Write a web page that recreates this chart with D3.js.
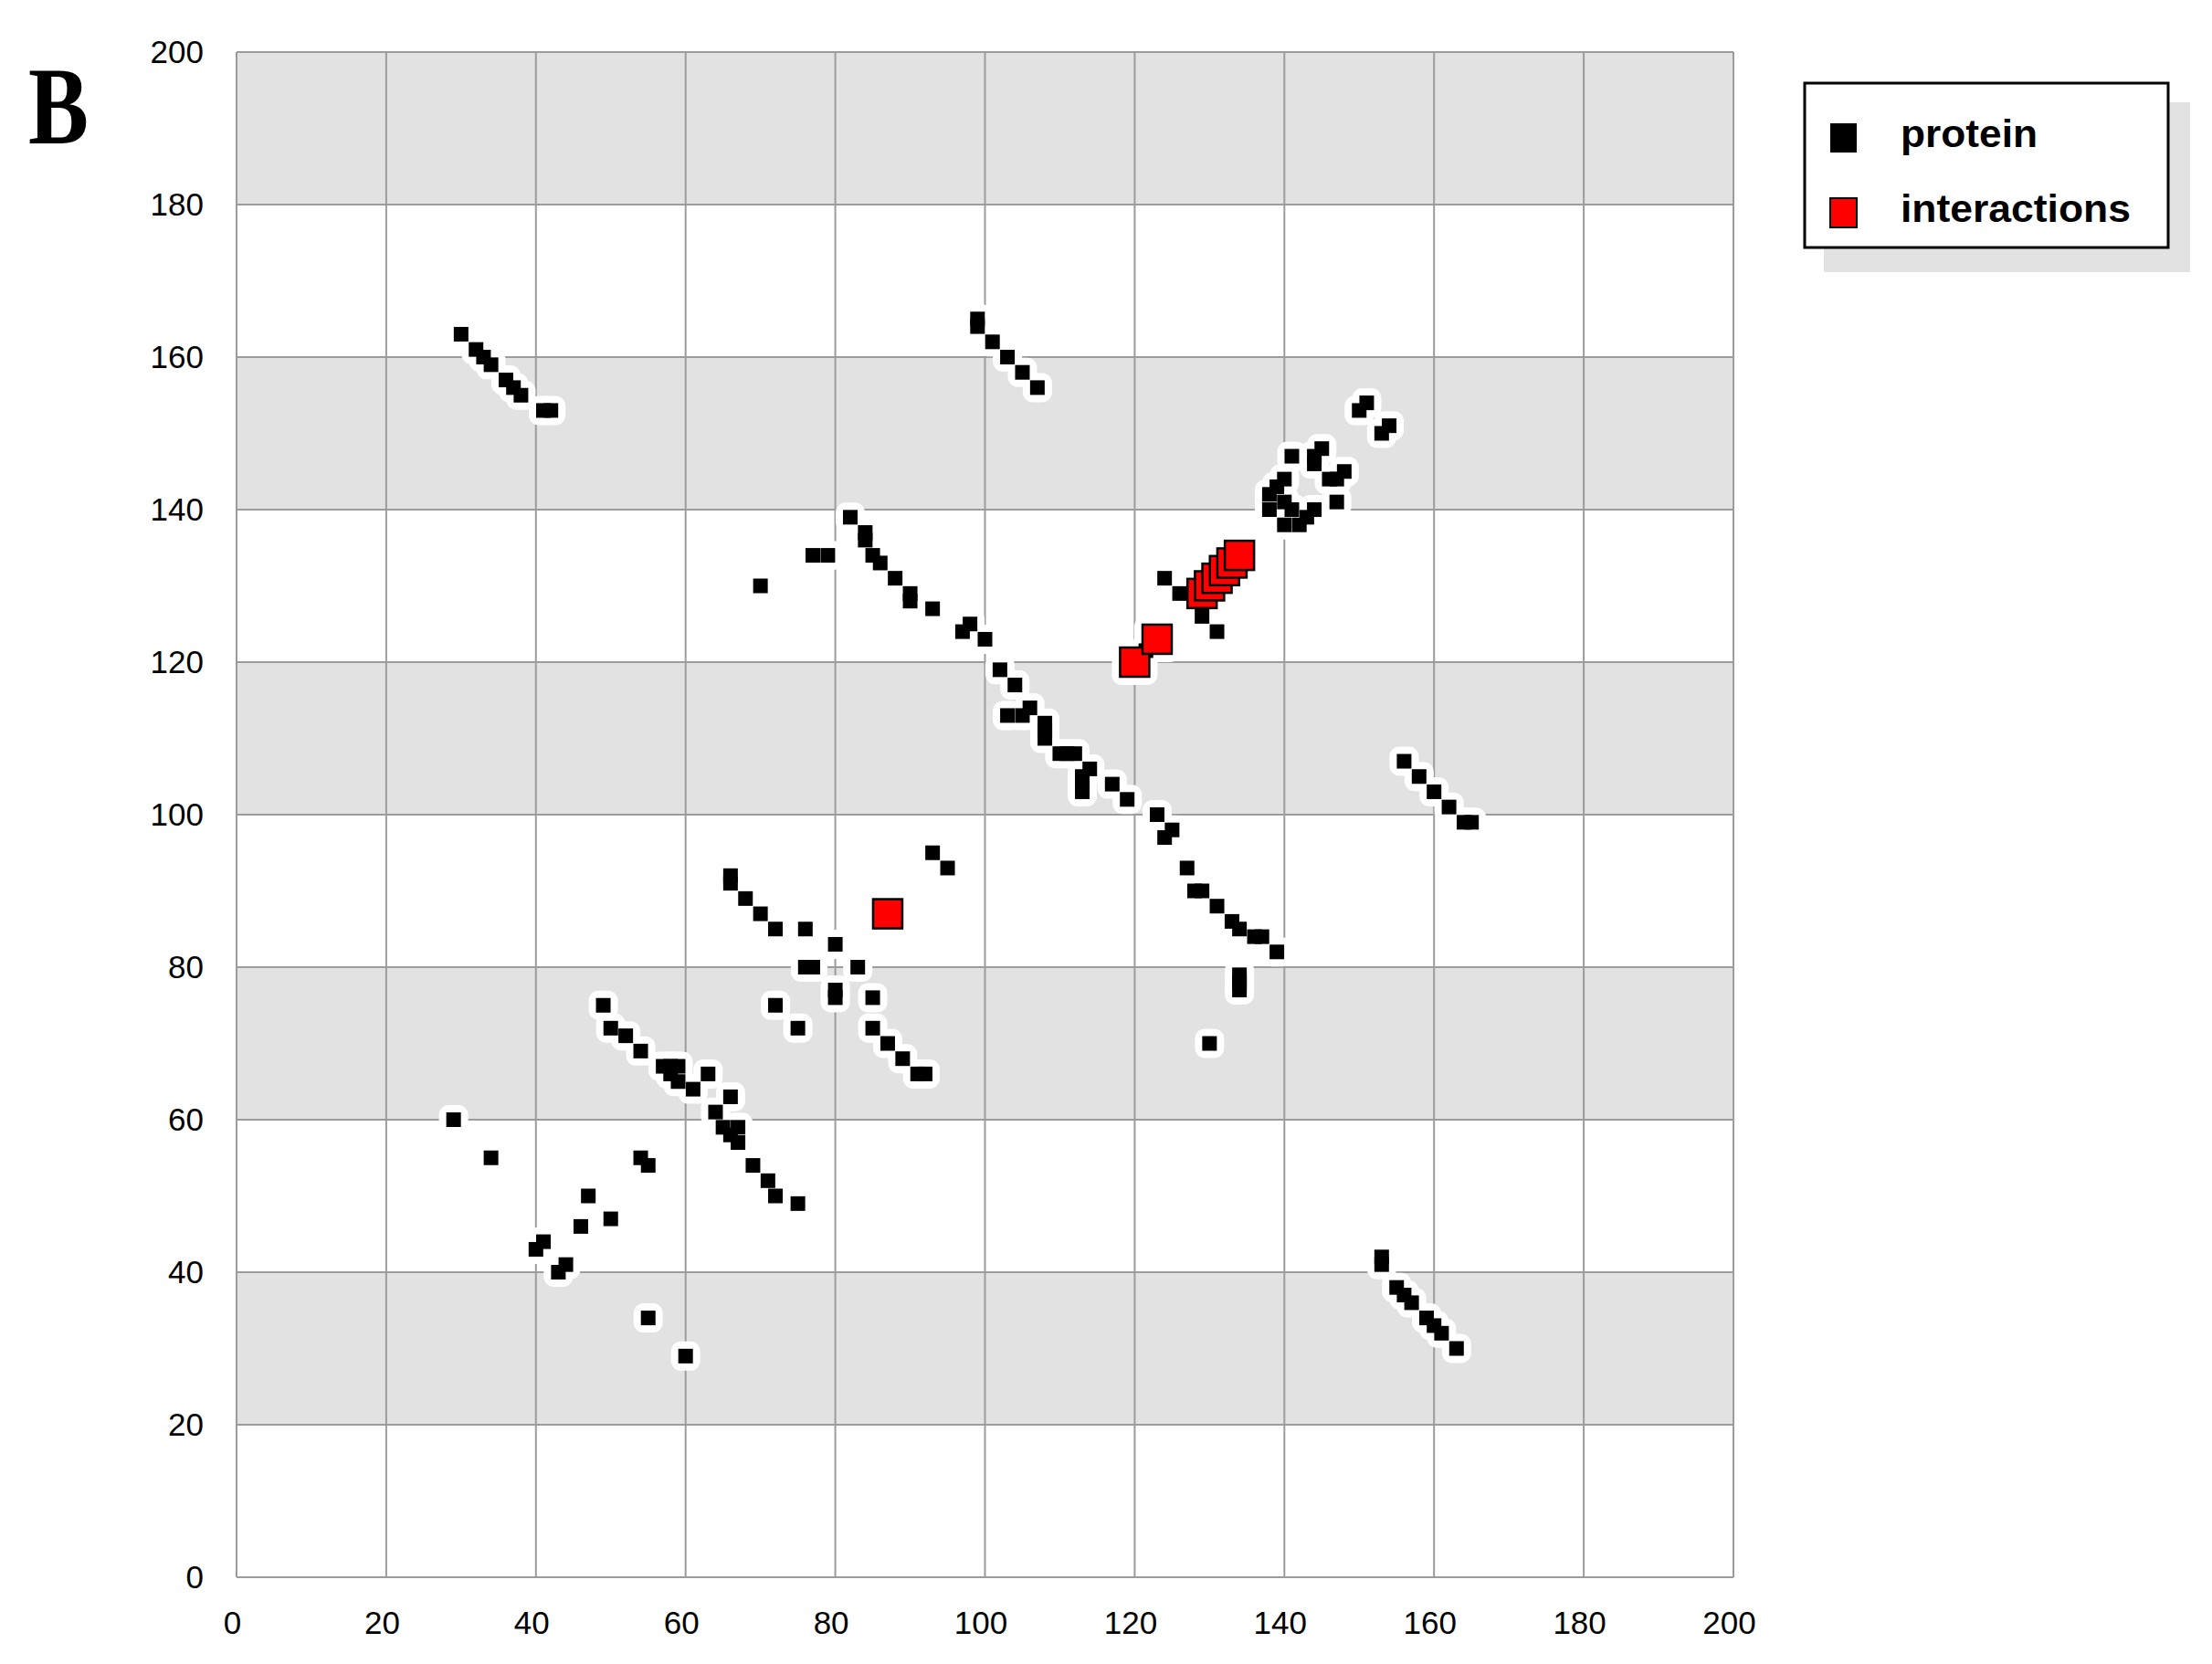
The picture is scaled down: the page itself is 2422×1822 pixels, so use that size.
<!DOCTYPE html>
<html><head><meta charset="utf-8">
<script src="https://cdn.jsdelivr.net/npm/d3@7"></script>
<style>body{margin:0;background:#fff;} svg{display:block;}</style>
</head><body>
<script>
const panelLabel = "B";
const seriesNames = ["protein", "interactions"];
const xTicks = [0, 20, 40, 60, 80, 100, 120, 140, 160, 180, 200];
const yTicks = [0, 20, 40, 60, 80, 100, 120, 140, 160, 180, 200];

// protein points [x, y]
const protein = [
  [30,163],[32,161],[33,160],[34,159],[36,157],[37,156],[38,155],[41,153],[42,153],
  [99,165],[99,164],[101,162],[103,160],[105,158],[107,156],
  [150,153],[151,154],[153,150],[154,151],
  [141,147],[144,147],[145,148],[144,146],[148,145],[146,144],[147,144],[147,141],
  [140,144],[139,143],[138,142],[138,140],[140,141],[141,140],[140,138],[142,138],[143,139],[144,140],
  [124,131],[126,129],[129,126],[131,124],[121.5,121.5],
  [70,130],[77,134],[79,134],
  [82,139],[84,137],[84,136],[85,134],[86,133],[88,131],[90,129],[90,128],[93,127],[98,125],[97,124],
  [100,123],[102,119],[104,117],[103,113],[105,113],[106,114],[108,112],[108,111],[108,110],
  [110,108],[111,108],[112,108],[114,106],[113,105],[113,104],[113,103],[117,104],[119,102],
  [123,100],[125,98],[124,97],[127,93],[128,90],[129,90],[131,88],[133,86],[134,85],[136,84],[137,84],
  [139,82],[134,79],[134,78],[134,77],[130,70],
  [156,107],[158,105],[160,103],[162,101],[164,99],[165,99],
  [93,95],[95,93],[66,92],[66,91],[68,89],[70,87],[72,85],[76,85],[80,83],[76,80],[77,80],[83,80],
  [80,77],[80,76],[85,76],[72,75],[75,72],[85,72],[87,70],[89,68],[91,66],[92,66],
  [49,75],[50,72],[52,71],[54,69],[57,67],[58,67],[59,67],[58,66],[59,65],[61,64],[63,66],[66,63],
  [64,61],[65,59],[67,59],[66,58],[67,57],[69,54],[71,52],[72,50],[75,49],
  [29,60],[34,55],[54,55],[55,54],[47,50],[50,47],[46,46],[41,44],[40,43],[44,41],[43,40],[55,34],[60,29],
  [153,42],[153,41],[155,38],[156,37],[157,36],[159,34],[160,33],[161,32],[163,30]
];

// interaction points [x, y]
const interactions = [
  [87,87],[120,120],[123,123],[129,129],[130,130],[131,131],[132,132],[133,133],[134,134]
];

const W = 2422, H = 1822;
const svg = d3.select("body").append("svg").attr("width", W).attr("height", H);

const x = d3.scaleLinear().domain([0, 200]).range([259, 1898]);
const y = d3.scaleLinear().domain([0, 200]).range([1727, 57]);

const plot = svg.append("g");

// alternating gray bands
const bandStarts = yTicks.slice(0, -1).filter((d, i) => i % 2 === 1);
plot.selectAll("rect.band").data(bandStarts).join("rect")
  .attr("class", "band")
  .attr("x", x(0)).attr("width", x(200) - x(0))
  .attr("y", d => y(d + 20)).attr("height", d => y(d) - y(d + 20))
  .attr("fill", "#e2e2e2");

// gridlines
const gridColor = "#9c9c9c";
plot.selectAll("line.vg").data(xTicks).join("line")
  .attr("x1", d => x(d)).attr("x2", d => x(d))
  .attr("y1", y(0)).attr("y2", y(200))
  .attr("stroke", gridColor).attr("stroke-width", 2);
plot.selectAll("line.hg").data(yTicks).join("line")
  .attr("y1", d => y(d)).attr("y2", d => y(d))
  .attr("x1", x(0)).attr("x2", x(200))
  .attr("stroke", gridColor).attr("stroke-width", 2);

// axes (labels only)
const font = "'Liberation Sans', Arial, sans-serif";
const yAxis = svg.append("g").attr("transform", `translate(${x(0)},0)`)
  .call(d3.axisLeft(y).tickValues(yTicks).tickSize(0).tickPadding(36).tickFormat(d3.format("d")));
yAxis.select(".domain").remove();
yAxis.selectAll("text").attr("font-family", font).attr("font-size", 35).attr("fill", "#000");

const xAxis = svg.append("g").attr("transform", `translate(0,${y(0)})`)
  .call(d3.axisBottom(x).tickValues(xTicks).tickSize(0).tickPadding(37).tickFormat(d3.format("d")));
xAxis.select(".domain").remove();
xAxis.selectAll("text").attr("font-family", font).attr("font-size", 35).attr("fill", "#000").attr("dx", -5);

// halos
const allPts = protein.map(p => ({p, s: 16})).concat(interactions.map(p => ({p, s: 34})));
const h = 8;
plot.selectAll("rect.halo").data(allPts).join("rect")
  .attr("x", d => x(d.p[0]) - d.s / 2 - h)
  .attr("y", d => y(d.p[1]) - d.s / 2 - h)
  .attr("width", d => d.s + 2 * h).attr("height", d => d.s + 2 * h)
  .attr("rx", h + 3)
  .attr("fill", "#fff");

// protein markers
plot.selectAll("rect.prot").data(protein).join("rect")
  .attr("x", d => x(d[0]) - 8).attr("y", d => y(d[1]) - 8)
  .attr("width", 16).attr("height", 16)
  .attr("fill", "#000");

// interaction markers
plot.selectAll("rect.inter").data(interactions).join("rect")
  .attr("x", d => x(d[0]) - 16).attr("y", d => y(d[1]) - 16)
  .attr("width", 32).attr("height", 32)
  .attr("fill", "#ff0000").attr("stroke", "#000").attr("stroke-width", 2.5);

// panel label
svg.append("text").text(panelLabel)
  .attr("x", 31).attr("y", 157)
  .attr("font-family", "'Liberation Serif', 'Times New Roman', serif")
  .attr("font-weight", "bold").attr("font-size", 121)
  .attr("textLength", 66).attr("lengthAdjust", "spacingAndGlyphs")
  .attr("fill", "#000");

// legend
const lg = svg.append("g");
lg.append("rect").attr("x", 1997).attr("y", 112).attr("width", 401).attr("height", 186).attr("fill", "#e2e2e2");
lg.append("rect").attr("x", 1976).attr("y", 91).attr("width", 398).attr("height", 180)
  .attr("fill", "#fff").attr("stroke", "#000").attr("stroke-width", 3);
const legendColors = ["#000", "#ff0000"];
const legendTextW = [150, 252];
seriesNames.forEach((name, i) => {
  const yy = 135 + i * 82;
  lg.append("rect").attr("x", 2004).attr("y", yy).attr("width", 29).attr("height", 32)
    .attr("fill", legendColors[i]).attr("stroke", "#000").attr("stroke-width", i ? 2 : 0);
  lg.append("text").text(name)
    .attr("x", 2081).attr("y", yy + 26)
    .attr("font-family", font).attr("font-weight", "bold").attr("font-size", 42)
    .attr("textLength", legendTextW[i]).attr("lengthAdjust", "spacingAndGlyphs")
    .attr("fill", "#000");
});
</script>
</body></html>
